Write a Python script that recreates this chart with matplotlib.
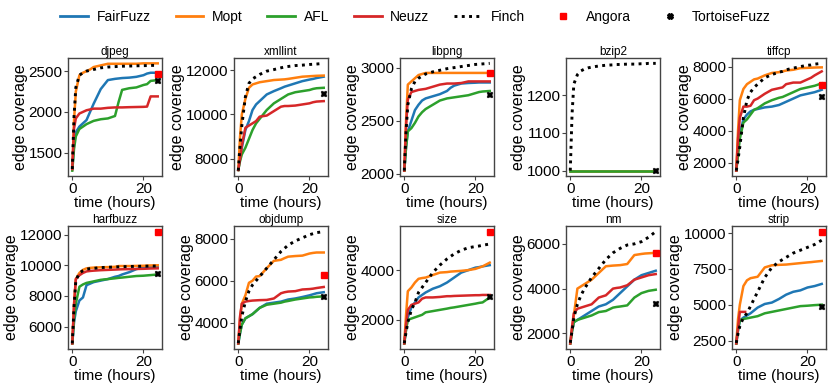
import matplotlib
matplotlib.use("Agg")
import matplotlib.pyplot as plt
from matplotlib.lines import Line2D

plt.rcParams['font.family'] = ['Liberation Sans', 'DejaVu Sans']

# ---------------- data ----------------
HOURS = [0, 0.5, 1, 2, 3, 4, 5, 6, 8, 10, 12, 13, 14, 16, 18, 20, 21, 22, 24]
END_HOUR = 24

benchmarks = ["djpeg", "xmllint", "libpng", "bzip2", "tiffcp",
              "harfbuzz", "objdump", "size", "nm", "strip"]
fuzzers = ["FairFuzz", "Mopt", "AFL", "Neuzz", "Finch"]

# djpeg
djpeg_fairfuzz = [1300, 1600, 1750, 1820, 1860, 1900, 2000, 2100, 2280, 2390, 2405, 2410, 2415, 2420, 2430, 2450, 2470, 2480, 2480]
djpeg_mopt     = [1300, 1900, 2250, 2450, 2480, 2500, 2520, 2550, 2570, 2590, 2590, 2590, 2590, 2590, 2590, 2595, 2595, 2595, 2595]
djpeg_afl      = [1280, 1550, 1700, 1790, 1820, 1850, 1870, 1890, 1910, 1920, 1950, 2120, 2270, 2290, 2300, 2330, 2340, 2380, 2390]
djpeg_neuzz    = [1300, 1800, 1920, 1980, 2000, 2020, 2030, 2040, 2040, 2050, 2055, 2055, 2055, 2058, 2060, 2062, 2065, 2190, 2190]
djpeg_finch    = [1300, 1950, 2300, 2450, 2480, 2500, 2510, 2520, 2540, 2550, 2555, 2558, 2560, 2562, 2565, 2567, 2568, 2570, 2570]

# xmllint
xmllint_fairfuzz = [7500, 8000, 8500, 9300, 9700, 10200, 10450, 10600, 10900, 11050, 11180, 11250, 11300, 11400, 11500, 11570, 11600, 11640, 11700]
xmllint_mopt     = [7500, 9000, 10000, 10700, 11200, 11350, 11400, 11450, 11500, 11550, 11570, 11580, 11600, 11650, 11700, 11720, 11730, 11740, 11750]
xmllint_afl      = [7500, 7900, 8200, 8500, 8900, 9300, 9600, 9800, 10200, 10500, 10700, 10800, 10900, 11000, 11050, 11100, 11150, 11180, 11200]
xmllint_neuzz    = [7500, 8000, 8600, 9400, 9500, 9600, 9700, 9900, 9950, 10150, 10350, 10380, 10380, 10400, 10450, 10500, 10550, 10580, 10600]
xmllint_finch    = [7470, 8600, 9500, 10800, 11400, 11600, 11700, 11800, 11950, 12020, 12100, 12140, 12160, 12200, 12220, 12250, 12260, 12270, 12300]

# libpng
libpng_fairfuzz = [2030, 2250, 2400, 2500, 2600, 2650, 2690, 2710, 2730, 2750, 2780, 2810, 2830, 2850, 2855, 2858, 2860, 2860, 2860]
libpng_mopt     = [2030, 2500, 2840, 2870, 2900, 2930, 2940, 2950, 2950, 2950, 2950, 2950, 2950, 2950, 2950, 2950, 2950, 2950, 2950]
libpng_afl      = [2030, 2250, 2400, 2430, 2480, 2540, 2580, 2610, 2650, 2690, 2710, 2715, 2720, 2730, 2740, 2760, 2770, 2775, 2780]
libpng_neuzz    = [2030, 2450, 2700, 2770, 2780, 2790, 2795, 2800, 2820, 2840, 2850, 2850, 2850, 2855, 2870, 2870, 2870, 2870, 2870]
libpng_finch    = [2030, 2400, 2650, 2800, 2870, 2900, 2920, 2940, 2960, 2975, 2990, 2995, 3000, 3010, 3020, 3030, 3032, 3035, 3040]

# bzip2 (Neuzz not shown)
bzip2_fairfuzz = [1000] * len(HOURS)
bzip2_mopt     = [1000] * len(HOURS)
bzip2_afl      = [1000] * len(HOURS)
bzip2_neuzz    = []
bzip2_finch    = [1000, 1150, 1230, 1255, 1265, 1270, 1273, 1275, 1278, 1280, 1281, 1282, 1282, 1283, 1283, 1284, 1284, 1285, 1285]

# tiffcp
tiffcp_fairfuzz = [1500, 2700, 3800, 4700, 5000, 5200, 5300, 5350, 5450, 5500, 5600, 5700, 5800, 6000, 6200, 6300, 6350, 6400, 6550]
tiffcp_mopt     = [1500, 4000, 5900, 6600, 6900, 7050, 7200, 7250, 7450, 7600, 7650, 7700, 7750, 7800, 7900, 7920, 7930, 7940, 7950]
tiffcp_afl      = [1500, 2500, 3500, 4500, 4700, 5000, 5300, 5400, 5700, 5900, 6050, 6100, 6200, 6400, 6600, 6700, 6750, 6800, 6950]
tiffcp_neuzz    = [1500, 3500, 4800, 5500, 5500, 5550, 5900, 6000, 6300, 6550, 6650, 6700, 6900, 7000, 7000, 7200, 7300, 7450, 7700]
tiffcp_finch    = [1500, 2200, 3000, 4800, 5900, 6400, 6700, 6900, 7300, 7500, 7650, 7700, 7800, 7900, 8000, 8080, 8100, 8150, 8200]

# harfbuzz
harfbuzz_fairfuzz = [4900, 6300, 7000, 7700, 7900, 8700, 8800, 8900, 9000, 9100, 9250, 9300, 9400, 9550, 9750, 9850, 9880, 9900, 9900]
harfbuzz_mopt     = [4900, 7500, 9100, 9500, 9700, 9800, 9830, 9850, 9870, 9880, 9900, 9950, 9950, 9950, 9960, 9970, 9980, 9990, 10000]
harfbuzz_afl      = [4900, 6500, 7500, 8600, 8750, 8850, 8900, 8950, 9050, 9100, 9150, 9180, 9200, 9250, 9300, 9320, 9340, 9360, 9400]
harfbuzz_neuzz    = [4900, 7400, 9100, 9350, 9500, 9600, 9630, 9650, 9680, 9700, 9720, 9730, 9740, 9750, 9760, 9770, 9780, 9790, 9800]
harfbuzz_finch    = [4900, 7300, 9000, 9500, 9650, 9750, 9780, 9800, 9850, 9870, 9890, 9900, 9910, 9920, 9930, 9940, 9945, 9950, 9950]

# objdump
objdump_fairfuzz = [3000, 3500, 3900, 4200, 4300, 4400, 4550, 4700, 4900, 4950, 5000, 5050, 5100, 5150, 5220, 5300, 5350, 5400, 5450]
objdump_mopt     = [3000, 4200, 4900, 5300, 5900, 6000, 6200, 6220, 6600, 6950, 7000, 7080, 7150, 7180, 7200, 7300, 7330, 7350, 7350]
objdump_afl      = [3000, 3500, 3900, 4200, 4300, 4400, 4550, 4700, 4850, 4900, 4950, 5000, 5030, 5100, 5150, 5200, 5210, 5230, 5250]
objdump_neuzz    = [3000, 4300, 4900, 5000, 5030, 5050, 5060, 5070, 5080, 5150, 5400, 5450, 5480, 5500, 5580, 5600, 5620, 5650, 5700]
objdump_finch    = [3010, 3700, 4300, 5000, 5500, 5800, 6000, 6200, 6600, 7000, 7400, 7550, 7700, 7900, 8050, 8200, 8250, 8300, 8350]

# size
size_fairfuzz = [1050, 1600, 2100, 2500, 2700, 2900, 3000, 3100, 3250, 3350, 3500, 3600, 3700, 3900, 4000, 4100, 4120, 4150, 4200]
size_mopt     = [1050, 2200, 3150, 3300, 3500, 3650, 3680, 3700, 3800, 3900, 3920, 3940, 3950, 3970, 4000, 4050, 4100, 4150, 4300]
size_afl      = [1050, 1600, 2000, 2050, 2100, 2150, 2200, 2300, 2350, 2400, 2450, 2480, 2500, 2550, 2600, 2650, 2680, 2700, 2900]
size_neuzz    = [1050, 1800, 2400, 2600, 2650, 2700, 2850, 2900, 2900, 2920, 2950, 2950, 2960, 2970, 2980, 2990, 2990, 3000, 3000]
size_finch    = [1056, 1500, 1900, 2400, 2700, 3100, 3300, 3500, 3900, 4200, 4450, 4550, 4650, 4800, 4900, 4950, 4970, 5000, 5050]

# nm
nm_fairfuzz = [1550, 2100, 2500, 2600, 2700, 2800, 2900, 3000, 3200, 3300, 3500, 3650, 3800, 4100, 4400, 4600, 4650, 4700, 4800]
nm_mopt     = [1550, 2200, 2800, 4000, 4100, 4200, 4300, 4400, 4700, 5000, 5030, 5040, 5050, 5100, 5500, 5550, 5570, 5580, 5600]
nm_afl      = [1550, 2100, 2500, 2600, 2650, 2700, 2750, 2800, 2950, 3000, 3150, 3180, 3200, 3250, 3600, 3800, 3850, 3900, 3950]
nm_neuzz    = [1550, 2300, 2900, 3100, 3150, 3200, 3250, 3300, 3600, 3700, 4000, 4030, 4050, 4150, 4400, 4500, 4550, 4600, 4650]
nm_finch    = [1578, 2100, 2700, 3300, 3700, 4000, 4250, 4500, 4900, 5300, 5600, 5700, 5800, 5950, 6000, 6100, 6200, 6300, 6550]

# strip (Neuzz only reported for the first hours)
strip_fairfuzz = [2300, 3200, 3900, 4100, 4250, 4400, 4600, 4800, 5050, 5150, 5400, 5550, 5700, 5900, 6000, 6200, 6250, 6300, 6450]
strip_mopt     = [2300, 4000, 5000, 6300, 6700, 6850, 6900, 6950, 7600, 7750, 7780, 7790, 7800, 7850, 7900, 7950, 7970, 8000, 8050]
strip_afl      = [2300, 3300, 3900, 4000, 4050, 4100, 4150, 4200, 4400, 4500, 4600, 4650, 4700, 4800, 4900, 4930, 4950, 4970, 5000]
strip_neuzz_hours = [0, 1, 2.5]
strip_neuzz    = [2300, 4500, 4500]
strip_finch    = [2330, 3000, 3500, 4100, 4400, 4900, 5400, 5900, 6900, 7600, 8000, 8150, 8300, 8600, 8800, 9000, 9100, 9200, 9500]

# final-coverage markers (None = not reported)
angora_final   = [2460, None, 2950, None, 6850, 12200, 6250, 5550, 5600, 10100]
tortoise_final = [2380, 10900, 2740, 1000, 6100, 9450, 5200, 2900, 3300, 4850]

yticks = {
    "djpeg": [1500, 2000, 2500],
    "xmllint": [8000, 10000, 12000],
    "libpng": [2000, 2500, 3000],
    "bzip2": [1000, 1100, 1200],
    "tiffcp": [2000, 4000, 6000, 8000],
    "harfbuzz": [6000, 8000, 10000, 12000],
    "objdump": [4000, 6000, 8000],
    "size": [2000, 4000],
    "nm": [2000, 4000, 6000],
    "strip": [2500, 5000, 7500, 10000],
}
xticks = [0, 20]

series = {name: [globals()[f"{name}_{f.lower()}"] for f in fuzzers] for name in benchmarks}
special_hours = {("strip", "Neuzz"): strip_neuzz_hours}

# ---------------- style ----------------
colors = {"FairFuzz": "#1f77b4", "Mopt": "#ff7f0e", "AFL": "#2ca02c",
          "Neuzz": "#d62728", "Finch": "black"}
spine_c = "#444444"
finch_ls = (0, (1, 1.5))

W, H = 831, 385
fig = plt.figure(figsize=(W / 100, H / 100), dpi=100)

lefts = [68, 234, 400, 566, 732]
aw = 94
rows = [(58, 176), (226, 349)]

for i, name in enumerate(benchmarks):
    r, c = divmod(i, 5)
    top, bot = rows[r]
    ax = fig.add_axes([lefts[c] / W, 1 - bot / H, aw / W, (bot - top) / H])
    for f, vals in zip(fuzzers, series[name]):
        if not vals:
            continue
        hrs = special_hours.get((name, f), HOURS)
        if f == "Finch":
            ax.plot(hrs, vals, color="black", lw=2.1, linestyle=finch_ls, zorder=4)
        else:
            ax.plot(hrs, vals, color=colors[f], lw=1.8, zorder=3)
    if angora_final[i] is not None:
        ax.plot([END_HOUR], [angora_final[i]], marker="s", color="red", ms=5, ls="none", zorder=5)
    if tortoise_final[i] is not None:
        ax.plot([END_HOUR], [tortoise_final[i]], marker="X", color="black", ms=4.5,
                mew=0.3, ls="none", zorder=5)
    ax.set_title(name, fontsize=8.5, pad=2)
    ax.set_yticks(yticks[name])
    ax.set_xticks(xticks)
    ax.tick_params(labelsize=11, length=3, width=0.8, color=spine_c, pad=1)
    ax.set_xlabel("time (hours)", fontsize=11, labelpad=0.5)
    ax.set_ylabel("edge coverage", fontsize=11.5, labelpad=0.5)
    for s in ax.spines.values():
        s.set_color(spine_c)
        s.set_linewidth(1.0)

handles = [Line2D([], [], color=colors[f], lw=2) for f in fuzzers[:4]]
handles.append(Line2D([], [], color="black", lw=2.1, linestyle=finch_ls))
handles.append(Line2D([], [], color="red", marker="s", ms=4, ls="none"))
handles.append(Line2D([], [], color="black", marker="X", ms=4, ls="none"))
labels = fuzzers + ["Angora", "TortoiseFuzz"]
fig.legend(handles, labels, loc="center", bbox_to_anchor=(0.5, 1 - 17 / H), ncol=7,
           frameon=False, fontsize=10, handlelength=2.0, handletextpad=0.6,
           columnspacing=1.8)

fig.savefig("out.png", dpi=100)
